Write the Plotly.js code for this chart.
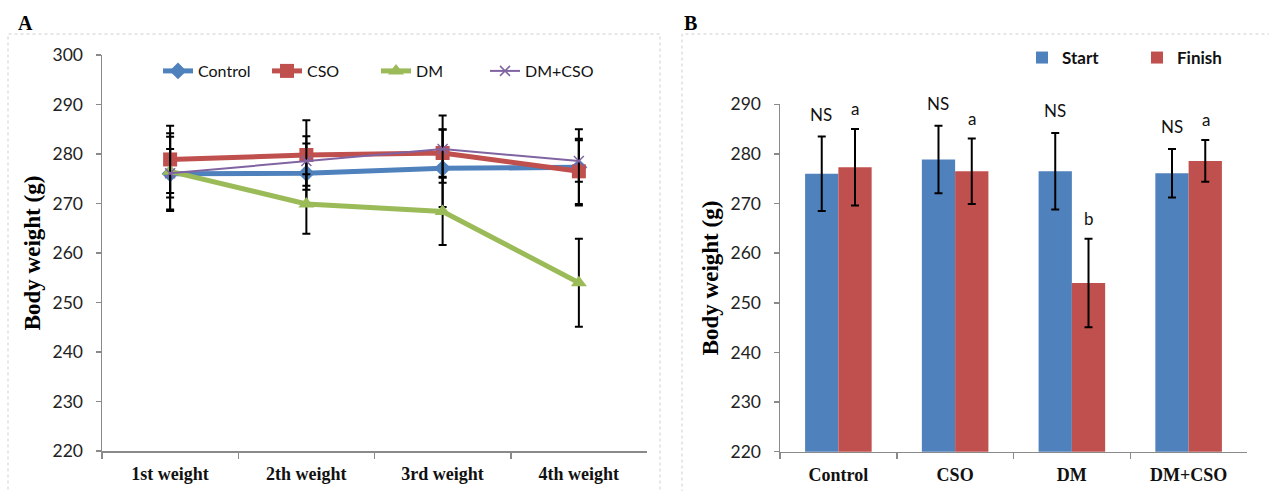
<!DOCTYPE html>
<html>
<head>
<meta charset="utf-8">
<script src="https://cdn.plot.ly/plotly-3.0.1.min.js"></script>
<style>
  html, body { margin: 0; padding: 0; background: #ffffff; }
  #chart { width: 1269px; height: 491px; }
</style>
</head>
<body>
<div id="chart"></div>
<script>
// ---------- Panel A data ----------
const weeks = ['1st weight', '2th weight', '3rd weight', '4th weight'];
const controlW = [276.0, 276.1, 277.1, 277.3];
const controlErr = [7.5, 6.0, 7.8, 7.7];
const csoW = [278.9, 279.8, 280.2, 276.5];
const csoErr = [6.8, 7.0, 4.8, 6.6];
const dmW = [276.5, 269.9, 268.4, 254.0];
const dmErr = [7.7, 6.0, 6.8, 8.9];
const dmcsoW = [276.1, 278.6, 281.0, 278.6];
const dmcsoErr = [4.9, 5.0, 6.8, 4.2];

// ---------- Panel B data ----------
const groups = ['Control', 'CSO', 'DM', 'DM+CSO'];
const startW = [276.0, 278.9, 276.5, 276.1];
const startErr = [7.5, 6.8, 7.7, 4.9];
const finishW = [277.3, 276.5, 254.0, 278.6];
const finishErr = [7.7, 6.6, 8.9, 4.2];
const startLabels = ['NS', 'NS', 'NS', 'NS'];
const finishLabels = ['a', 'a', 'b', 'a'];

const SANS = 'Lato, "Open Sans", "Liberation Sans", sans-serif';
const SERIF = '"Liberation Serif", "DejaVu Serif", serif';
const C_BLUE = '#4F81BD', C_RED = '#C0504D', C_GREEN = '#9BBB59', C_PURPLE = '#8064A2';

function errY(arr) {
  return { type: 'data', array: arr, visible: true, color: '#000000', thickness: 2, width: 4 };
}

function lineTrace(name, y, err, color, lw, symbol, msize) {
  return {
    type: 'scatter', mode: 'lines+markers', name: name,
    x: weeks, y: y, xaxis: 'x', yaxis: 'y',
    line: { color: color, width: lw },
    marker: { color: color, symbol: symbol, size: msize, line: { color: color, width: symbol === 'x-thin' ? 1.5 : 0 } },
    error_y: errY(err),
    legend: 'legend'
  };
}

const traces = [
  lineTrace('Control', controlW, controlErr, C_BLUE, 5, 'diamond', 13),
  lineTrace('CSO', csoW, csoErr, C_RED, 5, 'square', 14),
  lineTrace('DM', dmW, dmErr, C_GREEN, 5, 'triangle-up', 14),
  lineTrace('DM+CSO', dmcsoW, dmcsoErr, C_PURPLE, 2, 'x-thin', 10),
  {
    type: 'bar', name: 'Start', x: groups, y: startW, xaxis: 'x2', yaxis: 'y2',
    marker: { color: C_BLUE }, error_y: errY(startErr), legend: 'legend2'
  },
  {
    type: 'bar', name: 'Finish', x: groups, y: finishW, xaxis: 'x2', yaxis: 'y2',
    marker: { color: C_RED }, error_y: errY(finishErr), legend: 'legend2'
  }
];

// significance labels above the error bars
const annotations = [];
const halfBar = 17;
groups.forEach((g, i) => {
  annotations.push({
    xref: 'x2', yref: 'y2', x: g, y: startW[i] + startErr[i], xshift: -halfBar, yshift: 10,
    yanchor: 'bottom', text: startLabels[i], showarrow: false,
    font: { family: SANS, size: 17, color: '#111111' }
  });
  annotations.push({
    xref: 'x2', yref: 'y2', x: g, y: finishW[i] + finishErr[i], xshift: halfBar, yshift: 8,
    yanchor: 'bottom', text: finishLabels[i], showarrow: false,
    font: { family: SANS, size: 17, color: '#111111' }
  });
});
// panel letters
annotations.push({ xref: 'paper', yref: 'paper', x: 25 / 1269, y: 1 - 23 / 491, xanchor: 'center', yanchor: 'middle',
  text: '<b>A</b>', showarrow: false, font: { family: SERIF, size: 20, color: '#000' } });
annotations.push({ xref: 'paper', yref: 'paper', x: 690 / 1269, y: 1 - 23 / 491, xanchor: 'center', yanchor: 'middle',
  text: '<b>B</b>', showarrow: false, font: { family: SERIF, size: 20, color: '#000' } });

const axisCommonX = {
  type: 'category', tickson: 'boundaries', ticks: 'outside', ticklen: 6, tickcolor: '#8a8a8a', tickwidth: 1.5,
  showline: true, linecolor: '#8a8a8a', linewidth: 1.5, showgrid: false, zeroline: false,
  tickfont: { family: SERIF, size: 18, color: '#111111', weight: 'bold' }, ticklabelstandoff: 6,
  range: [-0.5, 3.5], fixedrange: true
};
const axisCommonY = {
  dtick: 10, ticks: 'outside', ticklen: 5, tickcolor: '#8a8a8a', tickwidth: 1.5,
  showline: true, linecolor: '#8a8a8a', linewidth: 1.5, showgrid: false, zeroline: false,
  tickfont: { family: SANS, size: 17.5, color: '#222222' }, ticklabelstandoff: 9,
  title: { text: '<b>Body weight (g)</b>', font: { family: SERIF, size: 23, color: '#000' }, standoff: 5 },
  fixedrange: true
};

const layout = {
  width: 1269, height: 491,
  margin: { l: 0, r: 0, t: 0, b: 0 },
  paper_bgcolor: '#ffffff', plot_bgcolor: 'rgba(0,0,0,0)',
  showlegend: true,
  barmode: 'group', bargap: 0.43, bargroupgap: 0,
  xaxis: Object.assign({}, axisCommonX, { domain: [102 / 1269, 647 / 1269], anchor: 'y' }),
  yaxis: Object.assign({}, axisCommonY, { domain: [1 - 451 / 491, 1 - 55 / 491], range: [220, 300], anchor: 'x' }),
  xaxis2: Object.assign({}, axisCommonX, { domain: [780 / 1269, 1247 / 1269], anchor: 'y2' }),
  yaxis2: Object.assign({}, axisCommonY, { domain: [1 - 451.7 / 491, 1 - 104.3 / 491], range: [220, 290], anchor: 'x2' }),
  legend: {
    orientation: 'h', x: 158 / 1269, y: 1 - 71 / 491, xanchor: 'left', yanchor: 'middle',
    font: { family: SANS, size: 16, color: '#111111' }, bgcolor: 'rgba(0,0,0,0)',
    entrywidth: 64, entrywidthmode: 'pixels', itemwidth: 30, traceorder: 'normal'
  },
  legend2: {
    orientation: 'h', x: 1022 / 1269, y: 1 - 58 / 491, xanchor: 'left', yanchor: 'middle',
    font: { family: SANS, size: 17, color: '#111111', weight: 'bold' }, bgcolor: 'rgba(0,0,0,0)',
    entrywidth: 70, entrywidthmode: 'pixels', itemwidth: 30, traceorder: 'normal'
  },
  annotations: annotations,
  shapes: [
    { type: 'rect', xref: 'paper', yref: 'paper', x0: 8 / 1269, x1: 660 / 1269, y0: -0.05, y1: 1 - 34 / 491,
      line: { color: '#cfcfcf', width: 1, dash: 'dot' }, fillcolor: 'rgba(0,0,0,0)', layer: 'below' },
    { type: 'rect', xref: 'paper', yref: 'paper', x0: 682 / 1269, x1: 1.05, y0: -0.05, y1: 1 - 34 / 491,
      line: { color: '#cfcfcf', width: 1, dash: 'dot' }, fillcolor: 'rgba(0,0,0,0)', layer: 'below' }
  ]
};

Plotly.newPlot('chart', traces, layout, { displayModeBar: false, staticPlot: true });
</script>
</body>
</html>
